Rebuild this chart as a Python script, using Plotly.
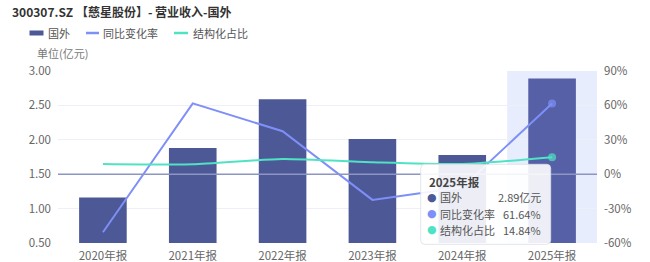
import plotly.graph_objects as go

categories = ["2020年报", "2021年报", "2022年报", "2023年报", "2024年报", "2025年报"]
revenue = [1.16, 1.88, 2.59, 2.01, 1.78, 2.89]          # 亿元
yoy = [-50.6, 61.8, 37.5, -22.4, -11.4, 61.64]          # %
share = [8.9, 8.6, 13.3, 10.4, 8.9, 14.84]              # %
left_ticks = [0.5, 1.0, 1.5, 2.0, 2.5, 3.0]
right_ticks = [-60, -30, 0, 30, 60, 90]
series_names = ["国外", "同比变化率", "结构化占比"]

FONT = "Noto Sans CJK SC"
BAR = "#4d5897"
BAR_HI = "#5560a6"
BLUE = "#7f8ff8"
GREEN = "#4fe3c4"

W, H = 650, 262
L, R, T, B = 58, 53, 71, 19
PW, PH = W - L - R, H - T - B


def px(x):
    return (x - L) / PW


def py(y):
    return (H - B - y) / PH


fig = go.Figure()
fig.add_trace(go.Bar(
    x=categories, y=revenue, name=series_names[0],
    marker=dict(color=[BAR] * 5 + [BAR_HI], line=dict(width=0)),
    width=0.53, yaxis="y",
))
fig.add_trace(go.Scatter(
    x=categories, y=yoy, name=series_names[1], mode="lines+markers",
    line=dict(color=BLUE, width=2),
    marker=dict(size=[0] * 5 + [8], color=BLUE, line=dict(width=0)),
    yaxis="y2",
))
fig.add_trace(go.Scatter(
    x=categories, y=share, name=series_names[2], mode="lines+markers",
    line=dict(color=GREEN, width=2, shape="spline", smoothing=0.6),
    marker=dict(size=[0] * 5 + [8], color=GREEN, line=dict(width=0)),
    yaxis="y2",
))

shapes = [
    dict(type="rect", xref="x", yref="paper", x0=4.5, x1=5.5, y0=0, y1=1,
         fillcolor="#e7edfc", line=dict(width=0), layer="below"),
    dict(type="line", xref="paper", yref="y", x0=0, x1=1, y0=1.5, y1=1.5,
         line=dict(color="#8d95c3", width=1.5), layer="above"),
]

# manual legend
shapes.append(dict(type="rect", xref="paper", yref="paper",
                   x0=px(29.5), x1=px(43.5), y0=py(35.5), y1=py(30.5),
                   fillcolor=BAR, line=dict(width=0)))
shapes.append(dict(type="line", xref="paper", yref="paper",
                   x0=px(86), x1=px(99), y0=py(33), y1=py(33),
                   line=dict(color=BLUE, width=2.5)))
shapes.append(dict(type="line", xref="paper", yref="paper",
                   x0=px(174), x1=px(188), y0=py(33), y1=py(33),
                   line=dict(color=GREEN, width=2.5)))

# tooltip box (rounded)
x0, x1, y0, y1 = 420.7, 550.7, 164.3, 244.3
r = 4
def P(x, y):
    return f"{px(x)},{py(y)}"
path = (f"M {P(x0 + r, y0)} L {P(x1 - r, y0)} Q {P(x1, y0)} {P(x1, y0 + r)} "
        f"L {P(x1, y1 - r)} Q {P(x1, y1)} {P(x1 - r, y1)} L {P(x0 + r, y1)} "
        f"Q {P(x0, y1)} {P(x0, y1 - r)} L {P(x0, y0 + r)} Q {P(x0, y0)} {P(x0 + r, y0)} Z")
shapes.append(dict(type="path", xref="paper", yref="paper", path=path,
                   fillcolor="rgba(255,255,255,0.9)",
                   line=dict(color="rgba(220,222,230,0.8)", width=1), layer="above"))

ann = [
    dict(text="<b>300307.SZ 【慈星股份】- 营业收入-国外</b>", xref="paper", yref="paper",
         x=px(10), y=py(11), xanchor="left", yanchor="middle", showarrow=False,
         font=dict(family=FONT, size=12, color="#333")),
    dict(text="单位(亿元)", xref="paper", yref="paper",
         x=px(35), y=py(53), xanchor="left", yanchor="middle", showarrow=False,
         font=dict(family=FONT, size=11, color="#777")),
    dict(text="<b>" + categories[-1] + "</b>", xref="paper", yref="paper",
         x=px(427), y=py(181.5), xanchor="left", yanchor="middle", showarrow=False,
         font=dict(family=FONT, size=11.5, color="#444")),
]
for name, xx in zip(series_names, [46, 101, 190.5]):
    ann.append(dict(text=name, xref="paper", yref="paper", x=px(xx), y=py(33),
                    xanchor="left", yanchor="middle", showarrow=False,
                    font=dict(family=FONT, size=11, color="#555")))

rows = [
    (series_names[0], f"{revenue[-1]:.2f}亿元", BAR, 197),
    (series_names[1], f"{yoy[-1]:.2f}%", BLUE, 213.5),
    (series_names[2], f"{share[-1]:.2f}%", GREEN, 229.5),
]
for name, val, col, yy in rows:
    ann.append(dict(text="●", xref="paper", yref="paper", x=px(432), y=py(yy),
                    xanchor="center", yanchor="middle", showarrow=False,
                    font=dict(family="DejaVu Sans", size=11, color=col)))
    ann.append(dict(text=name, xref="paper", yref="paper", x=px(437.5), y=py(yy),
                    xanchor="left", yanchor="middle", showarrow=False,
                    font=dict(family=FONT, size=11, color="#555")))
    ann.append(dict(text=val, xref="paper", yref="paper", x=px(543), y=py(yy),
                    xanchor="right", yanchor="middle", showarrow=False,
                    font=dict(family=FONT, size=11, color="#555")))

fig.update_layout(
    width=W, height=H,
    margin=dict(l=L, r=R, t=T, b=B, pad=0, autoexpand=False),
    paper_bgcolor="white", plot_bgcolor="white",
    font=dict(family=FONT, size=11, color="#666"),
    showlegend=False,
    bargap=0.47,
    xaxis=dict(type="category", showgrid=False, showline=False, ticks="",
               automargin=False, ticklabelstandoff=4,
               tickfont=dict(size=11.5, color="#666"), range=[-0.5, 5.5]),
    yaxis=dict(range=[0.5, 3.0], tickvals=left_ticks,
               ticktext=[f"{v:.2f}" for v in left_ticks],
               showgrid=True, gridcolor="#edf0f7", gridwidth=1, zeroline=False,
               showline=False, ticks="", ticklabelstandoff=6, automargin=False,
               tickfont=dict(size=11.5, color="#666")),
    yaxis2=dict(range=[-60, 90], tickvals=right_ticks,
                ticktext=[f"{v}%" for v in right_ticks],
                overlaying="y", side="right", showgrid=False, zeroline=False,
                showline=False, ticks="", ticklabelstandoff=6, automargin=False,
                tickfont=dict(size=11.5, color="#666")),
    shapes=shapes,
    annotations=ann,
)

fig.write_html("out.html")
